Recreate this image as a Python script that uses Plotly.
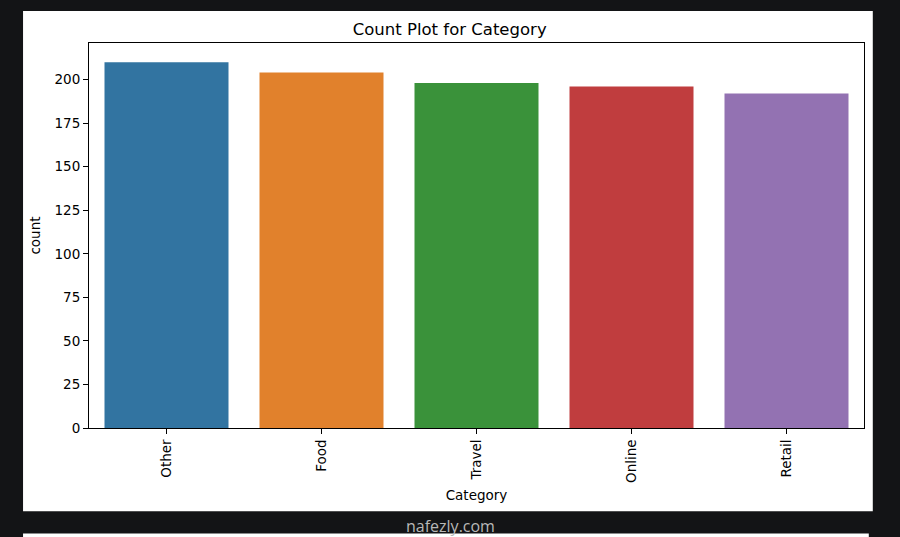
import plotly.graph_objects as go

categories = ["Other", "Food", "Travel", "Online", "Retail"]
counts = [210, 204, 198, 196, 192]
colors = ["#3274a1", "#e1812c", "#3a923a", "#c03d3e", "#9372b2"]
y_ticks = [0, 25, 50, 75, 100, 125, 150, 175, 200]

W, H = 900, 537
L, R, T, B = 89, 864.5, 43, 428.3
pw, ph = R - L, B - T


def px_x(x):
    return (x - L) / pw


def px_y(y):
    return (B - y) / ph


FONT = "DejaVu Sans"

fig = go.Figure()
fig.add_trace(go.Bar(
    x=categories, y=counts, marker=dict(color=colors, line=dict(width=0)),
    width=0.8, showlegend=False, hoverinfo="x+y",
))

shapes = [
    dict(type="rect", xref="paper", yref="paper",
         x0=px_x(23), x1=px_x(873.3), y0=px_y(511.7), y1=px_y(11),
         fillcolor="white", line=dict(width=0), layer="below"),
    dict(type="rect", xref="paper", yref="paper",
         x0=px_x(23), x1=px_x(869.3), y0=px_y(545), y1=px_y(534),
         fillcolor="white", line=dict(width=0), layer="below"),
]

fig.update_layout(
    width=W, height=H,
    margin=dict(l=L, r=W - R, t=T, b=H - B, pad=0),
    paper_bgcolor="#131416",
    plot_bgcolor="white",
    font=dict(family=FONT, size=13.5, color="black"),
    shapes=shapes,
    bargap=0.2,
    title=dict(text="Count Plot for Category", x=px_x(476.5), xanchor="center",
               y=1 - 29 / H, yanchor="middle",
               font=dict(family=FONT, size=16.5, color="black")),
    xaxis=dict(
        range=[-0.5, 4.5], showline=True, linecolor="black", linewidth=1,
        mirror=True, ticks="outside", ticklen=5, tickcolor="black",
        tickangle=-90, showgrid=False, zeroline=False,
        title=dict(text="Category", standoff=8, font=dict(size=13.5)),
    ),
    yaxis=dict(
        range=[0, 221], showline=True, linecolor="black", linewidth=1,
        mirror=True, ticks="outside", ticklen=5, tickcolor="black",
        tickvals=y_ticks, showgrid=False, zeroline=False,
        title=dict(text="count", standoff=10, font=dict(size=13.5)),
    ),
    annotations=[
        dict(text="nafezly.com", xref="paper", yref="paper",
             x=px_x(451), y=px_y(526), xanchor="center", yanchor="middle",
             showarrow=False, font=dict(family="Open Sans", size=16, color="#b8b8b8")),
    ],
)

fig.write_html(
    "out.html",
    config={"displayModeBar": False},
    post_script="document.body.style.margin='0';document.body.style.background='#131416';",
)
